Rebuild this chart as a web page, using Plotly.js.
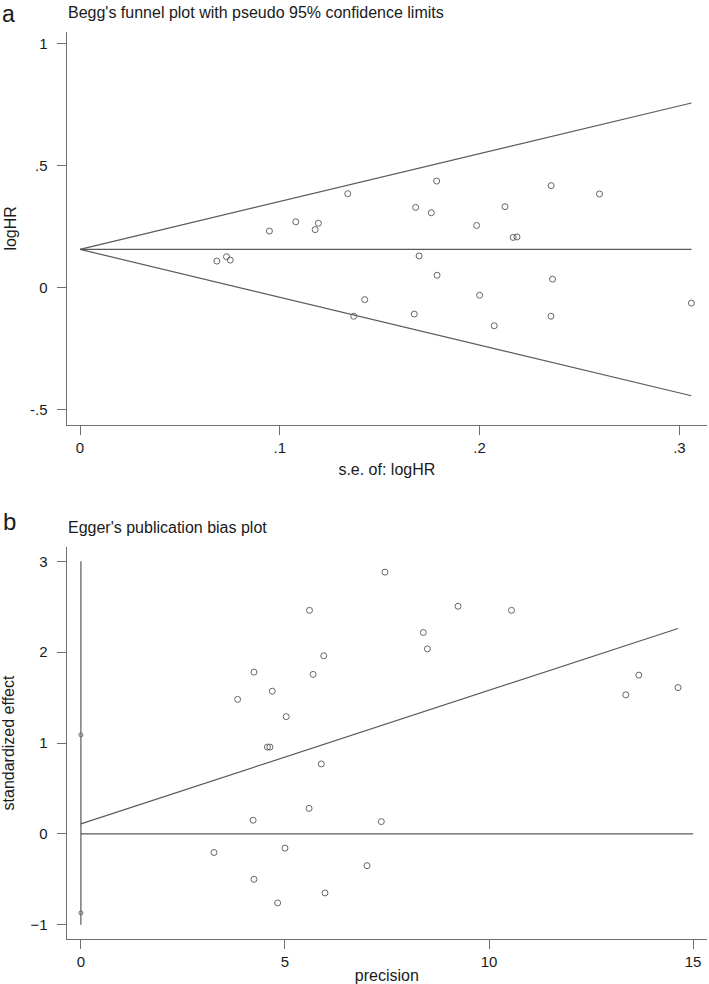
<!DOCTYPE html>
<html>
<head>
<meta charset="utf-8">
<script src="https://cdn.plot.ly/plotly-3.0.1.min.js"></script>
<style>
  html, body { margin: 0; padding: 0; background: #fff; }
  #chart { width: 709px; height: 984px; }
</style>
</head>
<body>
<div id="chart"></div>
<script>
// ---------- Panel a: Begg's funnel plot ----------
const beggSE = [0.0685, 0.0733, 0.0752, 0.0948, 0.108, 0.1177, 0.1193, 0.134, 0.1425, 0.137,
  0.1785, 0.168, 0.1758, 0.1697, 0.1787, 0.1673, 0.1985, 0.200, 0.2073, 0.2127,
  0.2168, 0.2187, 0.2358, 0.2365, 0.2357, 0.260, 0.306];
const beggLogHR = [0.109, 0.127, 0.113, 0.232, 0.270, 0.238, 0.264, 0.385, -0.049, -0.117,
  0.437, 0.329, 0.307, 0.130, 0.051, -0.108, 0.255, -0.031, -0.156, 0.332,
  0.206, 0.208, 0.418, 0.035, -0.117, 0.384, -0.063];
const pooledLogHR = 0.157;          // horizontal line / funnel apex
const funnelSE = [0, 0.306];        // funnel drawn from se = 0 to max se
const funnelUpper = [0.157, 0.757];
const funnelLower = [0.157, -0.443];
const beggXTicks = [0, 0.1, 0.2, 0.3];
const beggXTickText = ['0', '.1', '.2', '.3'];
const beggYTicks = [-0.5, 0, 0.5, 1];
const beggYTickText = ['-.5', '0', '.5', '1'];

// ---------- Panel b: Egger's publication bias plot ----------
const eggerPrecision = [7.45, 5.60, 5.95, 4.24, 5.69, 3.84, 4.69, 5.03, 4.57, 4.63,
  5.89, 5.59, 4.22, 7.36, 3.26, 5.00, 7.01, 4.24, 5.98, 4.82,
  9.24, 10.55, 8.39, 8.49, 13.67, 13.35, 14.63];
const eggerEffect = [2.88, 2.46, 1.96, 1.78, 1.755, 1.48, 1.57, 1.29, 0.955, 0.955,
  0.77, 0.28, 0.15, 0.135, -0.205, -0.157, -0.35, -0.50, -0.65, -0.76,
  2.505, 2.46, 2.216, 2.036, 1.747, 1.53, 1.61];
const eggerLineX = [0, 14.63];
const eggerLineY = [0.11, 2.26];
const eggerZeroX = [0, 15];
const eggerZeroY = [0, 0];
const eggerCIx = [0, 0];
const eggerCIy = [-1, 3];
const eggerCIMarksX = [0, 0];
const eggerCIMarksY = [1.09, -0.87];
const eggerXTicks = [0, 5, 10, 15];
const eggerYTicks = [-1, 0, 1, 2, 3];

const lineCol = '#5a5a5a';
const markCol = '#666666';
const axisCol = '#707070';
const textCol = '#1a1a1a';
const FONT = 'Liberation Sans, Arial, sans-serif';

const traces = [
  {x: funnelSE, y: funnelUpper, mode: 'lines', line: {color: lineCol, width: 1.2}, xaxis: 'x', yaxis: 'y', hoverinfo: 'skip'},
  {x: funnelSE, y: funnelLower, mode: 'lines', line: {color: lineCol, width: 1.2}, xaxis: 'x', yaxis: 'y', hoverinfo: 'skip'},
  {x: funnelSE, y: [pooledLogHR, pooledLogHR], mode: 'lines', line: {color: lineCol, width: 1.2}, xaxis: 'x', yaxis: 'y', hoverinfo: 'skip'},
  {x: beggSE, y: beggLogHR, mode: 'markers', marker: {symbol: 'circle-open', size: 6, color: markCol, line: {width: 1}}, xaxis: 'x', yaxis: 'y'},

  {x: eggerCIx, y: eggerCIy, mode: 'lines', line: {color: lineCol, width: 1.2}, xaxis: 'x2', yaxis: 'y2', hoverinfo: 'skip'},
  {x: eggerCIMarksX, y: eggerCIMarksY, mode: 'markers', marker: {symbol: 'circle-open', size: 4, color: markCol, line: {width: 1}}, xaxis: 'x2', yaxis: 'y2'},
  {x: eggerZeroX, y: eggerZeroY, mode: 'lines', line: {color: lineCol, width: 1.2}, xaxis: 'x2', yaxis: 'y2', hoverinfo: 'skip'},
  {x: eggerLineX, y: eggerLineY, mode: 'lines', line: {color: lineCol, width: 1.2}, xaxis: 'x2', yaxis: 'y2', hoverinfo: 'skip'},
  {x: eggerPrecision, y: eggerEffect, mode: 'markers', marker: {symbol: 'circle-open', size: 6, color: markCol, line: {width: 1}}, xaxis: 'x2', yaxis: 'y2'}
];

function axBase() {
  return {
    showline: true, linecolor: axisCol, linewidth: 1.2,
    ticks: 'outside', ticklen: 9, tickwidth: 1, tickcolor: axisCol,
    showgrid: false, zeroline: false, automargin: false,
    tickfont: {family: FONT, size: 15, color: textCol},
    title: {font: {family: FONT, size: 16, color: textCol}}
  };
}

const W = 709, H = 984;
const xDom = [66.7 / W, 707 / W];

const layout = {
  width: W, height: H,
  margin: {l: 0, r: 0, t: 0, b: 0},
  paper_bgcolor: '#fff', plot_bgcolor: '#fff',
  showlegend: false,
  font: {family: FONT, color: textCol},
  xaxis: Object.assign(axBase(), {
    domain: xDom, anchor: 'y', range: [-0.00666, 0.3138],
    tickvals: beggXTicks, ticktext: beggXTickText,
    title: {text: 's.e. of: logHR', standoff: 8, font: {family: FONT, size: 16, color: textCol}}
  }),
  yaxis: Object.assign(axBase(), {
    domain: [(H - 425) / H, (H - 31.7) / H], anchor: 'x', range: [-0.5627, 1.049],
    tickvals: beggYTicks, ticktext: beggYTickText, ticklabelstandoff: 6,
    title: {text: 'logHR', standoff: 9, font: {family: FONT, size: 16, color: textCol}}
  }),
  xaxis2: Object.assign(axBase(), {
    domain: xDom, anchor: 'y2', range: [-0.348, 15.34],
    tickvals: eggerXTicks,
    title: {text: 'precision', standoff: 0, font: {family: FONT, size: 16, color: textCol}}
  }),
  yaxis2: Object.assign(axBase(), {
    domain: [(H - 939) / H, (H - 547) / H], anchor: 'x2', range: [-1.157, 3.157],
    tickvals: eggerYTicks, ticklabelstandoff: 6,
    title: {text: 'standardized effect', standoff: 20, font: {family: FONT, size: 16, color: textCol}}
  }),
  annotations: [
    {text: 'a', xref: 'paper', yref: 'paper', x: 1 / W, y: 1, xanchor: 'left', yanchor: 'top', showarrow: false, borderpad: 0, font: {family: FONT, size: 23, color: textCol}},
    {text: "Begg's funnel plot with pseudo 95% confidence limits", xref: 'paper', yref: 'paper', x: 66 / W, y: 1 - 13 / H, xanchor: 'left', yanchor: 'middle', showarrow: false, font: {family: FONT, size: 16, color: textCol}},
    {text: 'b', xref: 'paper', yref: 'paper', x: 1 / W, y: 1 - 521 / H, xanchor: 'left', yanchor: 'middle', showarrow: false, font: {family: FONT, size: 24, color: textCol}},
    {text: "Egger's publication bias plot", xref: 'paper', yref: 'paper', x: 66 / W, y: 1 - 527 / H, xanchor: 'left', yanchor: 'middle', showarrow: false, font: {family: FONT, size: 16, color: textCol}}
  ]
};

Plotly.newPlot('chart', traces, layout, {displayModeBar: false, staticPlot: true});
</script>
</body>
</html>
